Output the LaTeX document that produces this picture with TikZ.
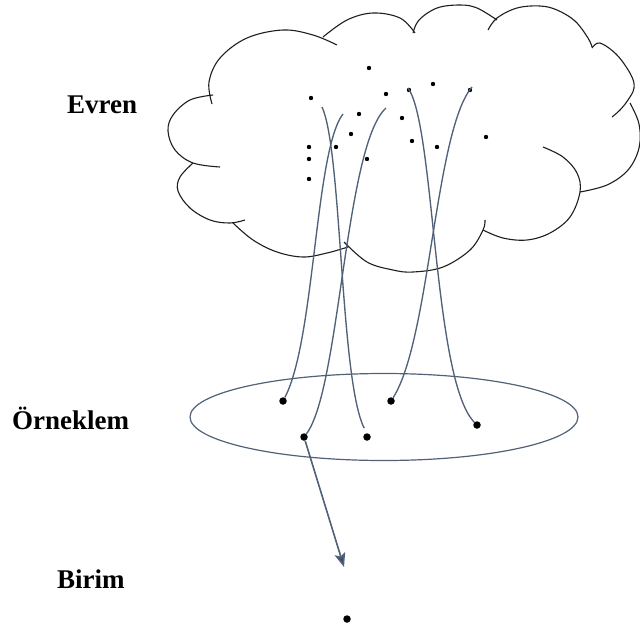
\documentclass[tikz,border=0pt]{standalone}
\usepackage{fontspec}
\setmainfont{Liberation Serif}
\usetikzlibrary{arrows.meta}
\definecolor{slate}{HTML}{506178}
\definecolor{slatedark}{HTML}{3E4E66}
\definecolor{cloudline}{HTML}{1E1E1E}
\tikzset{
  lobe/.style={draw=cloudline,line width=1.1pt},
  sdot/.style={circle,fill=black,inner sep=0pt,minimum size=4.4pt},
  bdot/.style={circle,fill=black,inner sep=0pt,minimum size=7.5pt},
  link/.style={draw=slate,line width=1.35pt},
  lbl/.style={anchor=base west,inner sep=0pt,font=\fontsize{27}{30}\selectfont\bfseries}
}
\begin{document}
\begin{tikzpicture}[x=1pt,y=-1pt]
\useasboundingbox (0,0) rectangle (640,627);
% cloud lobes
\draw[lobe] plot[smooth,tension=0.6] coordinates {(212,104) (209,82) (220,58) (247,38) (283,30) (313,35) (337,45)};
\draw[lobe] plot[smooth,tension=0.6] coordinates {(213,95) (190,100) (173,115) (168,131) (175,150) (193,163) (220,167)};
\draw[lobe] plot[smooth,tension=0.6] coordinates {(193,163) (180,177) (178,191) (190,208) (210,220) (230,223) (245,220)};
\draw[lobe] plot[smooth,tension=0.6] coordinates {(233,223) (253,240) (277,252) (303,257) (327,253) (348,247)};
\draw[lobe] plot[smooth,tension=0.6] coordinates {(344,242) (367,262) (393,270) (413,272) (443,267) (470,250) (483,230) (485,220)};
\draw[lobe] plot[smooth,tension=0.6] coordinates {(483,230) (503,238) (527,240) (550,233) (570,217) (580,192) (577,173) (563,157) (543,147)};
\draw[lobe] plot[smooth,tension=0.6] coordinates {(580,192) (607,185) (628,170) (639,148) (639,124) (630,103)};
\draw[lobe] plot[smooth,tension=0.6] coordinates {(592,48) (600,43) (617,55) (631,75) (634,88) (628,100) (620,110) (612,117)};
\draw[lobe] plot[smooth,tension=0.6] coordinates {(592,47) (588,38) (575,21) (557,10) (540,6) (517,8) (497,18) (488,30)};
\draw[lobe] plot[smooth,tension=0.6] coordinates {(497,20) (477,8) (460,5) (437,8) (419,20) (413,33)};
\draw[lobe] plot[smooth,tension=0.6] coordinates {(323,37) (347,20) (373,13) (400,18) (415,33)};
% dots in cloud
\foreach \p [count=\i] in {(369,68),(311,98),(386,94),(409,90),(433,84),(470,90),(359,114),(402,118),(351,134),(412,141),(486,137),(309,147),(336,147),(437,147),(309,159),(367,159),(309,179)}
  \node[sdot] (c\i) at \p {};
% labels
\node[lbl] (evren) at (67,113) {Evren};
\node[lbl] (orneklem) at (12,429) {Örneklem};
\node[lbl] (birim) at (57,588) {Birim};
% sample ellipse
\draw[draw=slate,line width=1.2pt] (384,417) ellipse [x radius=194,y radius=43.5];
\node[bdot] (e1) at (283,401) {};
\node[bdot] (e2) at (391,401) {};
\node[bdot] (e3) at (304,437) {};
\node[bdot] (e4) at (367,437) {};
\node[bdot] (e5) at (477,425) {};
% curve tops
\coordinate (t1) at (343,114);
\coordinate (t2) at (322,107);
\coordinate (t3) at (386,108);
\coordinate (t4) at (408,88);
\coordinate (t5) at (472,87);
\draw[link] (t1) .. controls (315,150) and (315,340) .. (e1);
\draw[link] (t2) .. controls (342,150) and (340,380) .. ([yshift=6pt]e4.north west);
\draw[link] (t3) .. controls (345,145) and (340,390) .. (e3);
\draw[link] (t4) .. controls (435,125) and (433,380) .. (e5);
\draw[link] (t5) .. controls (435,130) and (430,340) .. (e2);
% unit
\node[bdot] (u) at (347,619) {};
\coordinate (tip) at (344,567);
\draw[draw=slate,line width=1.6pt,-{Stealth[length=14pt,width=11pt,inset=3pt,fill=slatedark]}] (e3) -- (tip);
\end{tikzpicture}
\end{document}
